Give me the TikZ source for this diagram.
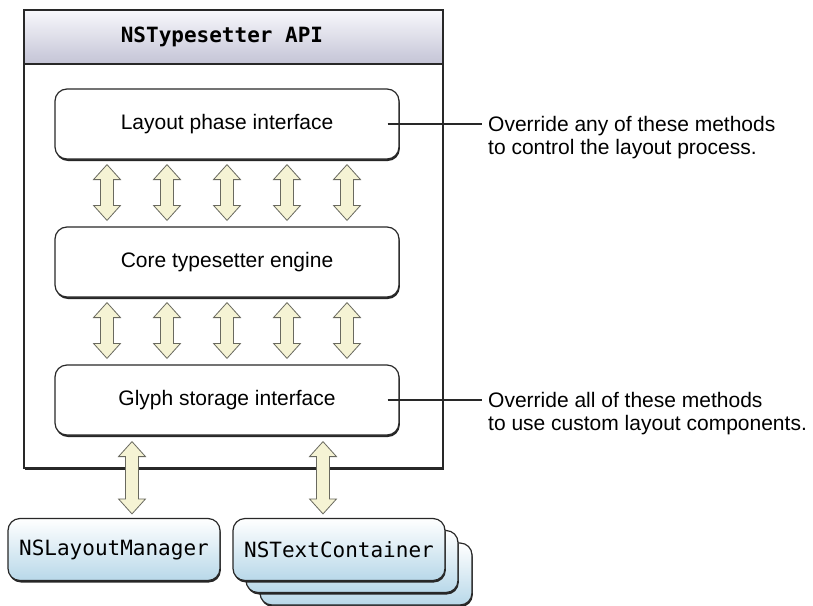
\documentclass[tikz,border=0pt]{standalone}
\usepackage{fontspec}
\setmainfont{Liberation Sans}
\setmonofont{DejaVu Sans Mono}
\usetikzlibrary{calc,shadows}

\definecolor{arrowfill}{RGB}{245,243,212}
\definecolor{arrowline}{RGB}{105,105,95}
\definecolor{boxline}{RGB}{40,40,40}
\definecolor{headtop}{RGB}{248,248,252}
\definecolor{headbot}{RGB}{196,196,214}
\definecolor{classbot}{RGB}{184,216,233}

\begin{document}
\begin{tikzpicture}[x=1pt,y=-1pt,
  layer/.style={draw=boxline, line width=1.2pt, fill=white, rounded corners=12pt,
    minimum width=344pt, minimum height=70pt, font=\fontsize{21}{23}\selectfont,
    drop shadow={shadow xshift=0.8pt, shadow yshift=-2pt, fill=black!85, opacity=1}},
  classbox/.style={layer, minimum width=212pt, minimum height=62pt,
    top color=white, bottom color=classbot, font=\ttfamily\fontsize{21}{23}\selectfont},
  note/.style={anchor=west, align=left, inner xsep=6pt, font=\fontsize{21}{23}\selectfont},
  leader/.style={draw=boxline, line width=1.2pt},
  fatarrow/.style={draw=arrowline, fill=arrowfill, line width=0.8pt, line join=miter,
    to path={let \p1=(\tikztostart), \p2=(\tikztotarget) in
      (\x1,\y1) -- (\x1+13.5pt,\y1-15pt) -- (\x1+6.5pt,\y1-15pt) -- (\x1+6.5pt,\y2+15pt)
      -- (\x1+13.5pt,\y2+15pt) -- (\x1,\y2) -- (\x1-13.5pt,\y2+15pt) -- (\x1-6.5pt,\y2+15pt)
      -- (\x1-6.5pt,\y1-15pt) -- (\x1-13.5pt,\y1-15pt) -- cycle}}
]
\clip (0,0) rectangle (813,605);

% The API frame with its title band
\node[draw=boxline, line width=1.5pt, fill=white, minimum width=419pt, minimum height=458pt,
  anchor=north west, inner sep=0pt,
  drop shadow={shadow xshift=0.8pt, shadow yshift=-2pt, fill=black!85, opacity=1}] (api) at (23,9) {};
\node[draw=boxline, line width=1.5pt, top color=headtop, bottom color=headbot,
  minimum width=419pt, minimum height=54pt, anchor=north west] (hdr) at (23,9) {};
\node[font=\ttfamily\bfseries\fontsize{21}{23}\selectfont] (title) at (222,37) {NSTypesetter API};

% The three layers
\node[layer] (lay) at (227,124) {Layout phase interface};
\node[layer] (core) at (227,262) {Core typesetter engine};
\node[layer] (glyph) at (227,400) {Glyph storage interface};

% Arrows between the layers
\foreach \ax in {-120,-60,0,60,120} {
  \draw[fatarrow] ([xshift=\ax pt, yshift=-5pt]lay.south) to ([xshift=\ax pt, yshift=6pt]core.north);
  \draw[fatarrow] ([xshift=\ax pt, yshift=-5pt]core.south) to ([xshift=\ax pt, yshift=6pt]glyph.north);
}

% Notes on the right
\node[note] (note1) at (482,138) {Override any of these methods\\to control the layout process.};
\node[note] (note2) at (482,414) {Override all of these methods\\to use custom layout components.};
\draw[leader] ([xshift=-12pt]lay.east) -- (lay.east -| note1.west);
\draw[leader] ([xshift=-12pt]glyph.east) -- (glyph.east -| note2.west);

% Layout components below
\node[classbox] (tc3) at (366,574) {};
\node[classbox] (tc2) at (352,561.5) {};
\node[classbox] (tc) at (339,549.5) {NSTextContainer};
\node[classbox] (lm) at (114,549.5) {NSLayoutManager};

\draw[fatarrow] ([xshift=-95pt, yshift=-6pt]glyph.south) to ([xshift=18pt, yshift=4pt]lm.north);
\draw[fatarrow] ([xshift=96pt, yshift=-6pt]glyph.south) to ([xshift=-16pt, yshift=4pt]tc.north);
\end{tikzpicture}
\end{document}
